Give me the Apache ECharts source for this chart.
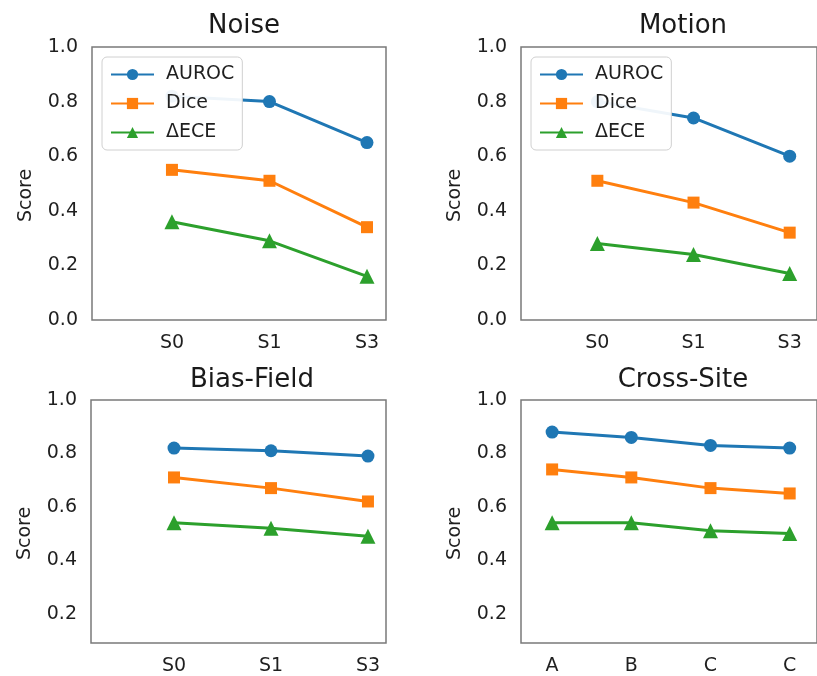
<!DOCTYPE html>
<html>
<head>
<meta charset="utf-8">
<script src="https://cdn.jsdelivr.net/npm/echarts@6/dist/echarts.min.js"></script>
<style>
  html, body { margin: 0; padding: 0; background: #fff; }
  #main { width: 817px; height: 676px; }
</style>
</head>
<body>
<div id="main"></div>
<script>
// categories
const shiftCats = ['S0', 'S1', 'S3'];
const siteCats = ['A', 'B', 'C', 'C'];

// Noise
const noiseAuroc = [0.82, 0.80, 0.65];
const noiseDice = [0.55, 0.51, 0.34];
const noiseEce = [0.36, 0.29, 0.16];

// Motion
const motionAuroc = [0.80, 0.74, 0.60];
const motionDice = [0.51, 0.43, 0.32];
const motionEce = [0.28, 0.24, 0.17];

// Bias-Field
const biasAuroc = [0.82, 0.81, 0.79];
const biasDice = [0.71, 0.67, 0.62];
const biasEce = [0.54, 0.52, 0.49];

// Cross-Site
const siteAuroc = [0.88, 0.86, 0.83, 0.82];
const siteDice = [0.74, 0.71, 0.67, 0.65];
const siteEce = [0.54, 0.54, 0.51, 0.50];

const topTicks = [0, 0.2, 0.4, 0.6, 0.8, 1.0];
const bottomTicks = [0.2, 0.4, 0.6, 0.8, 1.0];

const FONT = 'DejaVu Sans';
const colors = { AUROC: '#1f77b4', Dice: '#ff7f0e', 'ΔECE': '#2ca02c' };
const symbols = { AUROC: 'circle', Dice: 'rect', 'ΔECE': 'triangle' };
const symbolSizes = { AUROC: 13, Dice: 12, 'ΔECE': 15 };

const panels = [
    { title: 'Noise', cats: shiftCats, ticks: topTicks, ymin: 0, xmin: -0.82, xmax: 2.195,
      grid: { left: 92, top: 47, width: 294, height: 273 }, titleX: 239, titleY: 8,
      values: { AUROC: noiseAuroc, Dice: noiseDice, 'ΔECE': noiseEce } },
    { title: 'Motion', cats: shiftCats, ticks: topTicks, ymin: 0, xmin: -0.794, xmax: 2.284,
      grid: { left: 521, top: 47, width: 314, height: 273 }, titleX: 678, titleY: 8,
      values: { AUROC: motionAuroc, Dice: motionDice, 'ΔECE': motionEce } },
    { title: 'Bias-Field', cats: shiftCats, ticks: bottomTicks, ymin: 0.09, xmin: -0.856, xmax: 2.186,
      grid: { left: 91, top: 400, width: 295, height: 244 }, titleX: 247, titleY: 362,
      values: { AUROC: biasAuroc, Dice: biasDice, 'ΔECE': biasEce } },
    { title: 'Cross-Site', cats: siteCats, ticks: bottomTicks, ymin: 0.09, xmin: -0.393, xmax: 3.345,
      grid: { left: 521, top: 400, width: 314, height: 244 }, titleX: 678, titleY: 362,
      values: { AUROC: siteAuroc, Dice: siteDice, 'ΔECE': siteEce } }
];

const titles = [], grids = [], xAxes = [], yAxes = [], series = [];

panels.forEach((p, i) => {
    titles.push({
        text: p.title, left: p.titleX, top: p.titleY, textAlign: 'center',
        textStyle: { fontFamily: FONT, fontSize: 26, fontWeight: 'normal', color: '#1a1a1a' }
    });
    grids.push(Object.assign({ show: true, borderColor: '#7a7a7a', borderWidth: 1.5, backgroundColor: '#fff' }, p.grid));
    const idx = p.cats.map((c, k) => k);
    xAxes.push({
        type: 'value', gridIndex: i, min: p.xmin, max: p.xmax,
        axisLine: { show: false }, splitLine: { show: false },
        axisTick: { show: false },
        axisLabel: {
            customValues: idx, margin: 14,
            formatter: v => p.cats[Math.round(v)],
            fontFamily: FONT, fontSize: 19, color: '#1f1f1f'
        }
    });
    yAxes.push({
        type: 'value', gridIndex: i, min: p.ymin, max: 1.0,
        name: 'Score', nameLocation: 'middle', nameGap: 56, nameRotate: 90,
        nameTextStyle: { fontFamily: FONT, fontSize: 19, color: '#1f1f1f', padding: [0, 24, 0, 0] },
        axisLine: { show: false }, splitLine: { show: false }, axisTick: { show: false },
        axisLabel: {
            customValues: p.ticks, margin: 14,
            formatter: v => v.toFixed(1),
            fontFamily: FONT, fontSize: 19, color: '#1f1f1f'
        }
    });
    Object.keys(p.values).forEach(name => {
        series.push({
            name: name, type: 'line', xAxisIndex: i, yAxisIndex: i,
            data: p.values[name].map((v, k) => [k, v]),
            symbol: symbols[name], symbolSize: symbolSizes[name],
            lineStyle: { color: colors[name], width: 3 },
            itemStyle: { color: colors[name] },
            z: 2
        });
    });
});

const legendBase = {
    orient: 'vertical', top: 57, itemWidth: 43, itemHeight: 14, itemGap: 10,
    padding: [8, 8, 8, 8],
    backgroundColor: 'rgba(255,255,255,0.93)', borderColor: '#d0d0d0', borderWidth: 1, borderRadius: 5,
    textStyle: { fontFamily: FONT, fontSize: 19, color: '#1f1f1f', padding: [0, 0, 0, 7] },
    data: ['AUROC', 'Dice', 'ΔECE'],
    selectedMode: false,
    z: 10
};

const chart = echarts.init(document.getElementById('main'));
chart.setOption({
    animation: false,
    backgroundColor: '#fff',
    title: titles,
    grid: grids,
    xAxis: xAxes,
    yAxis: yAxes,
    legend: [
        Object.assign({ left: 102 }, legendBase),
        Object.assign({ left: 531 }, legendBase)
    ],
    series: series
});
</script>
</body>
</html>
